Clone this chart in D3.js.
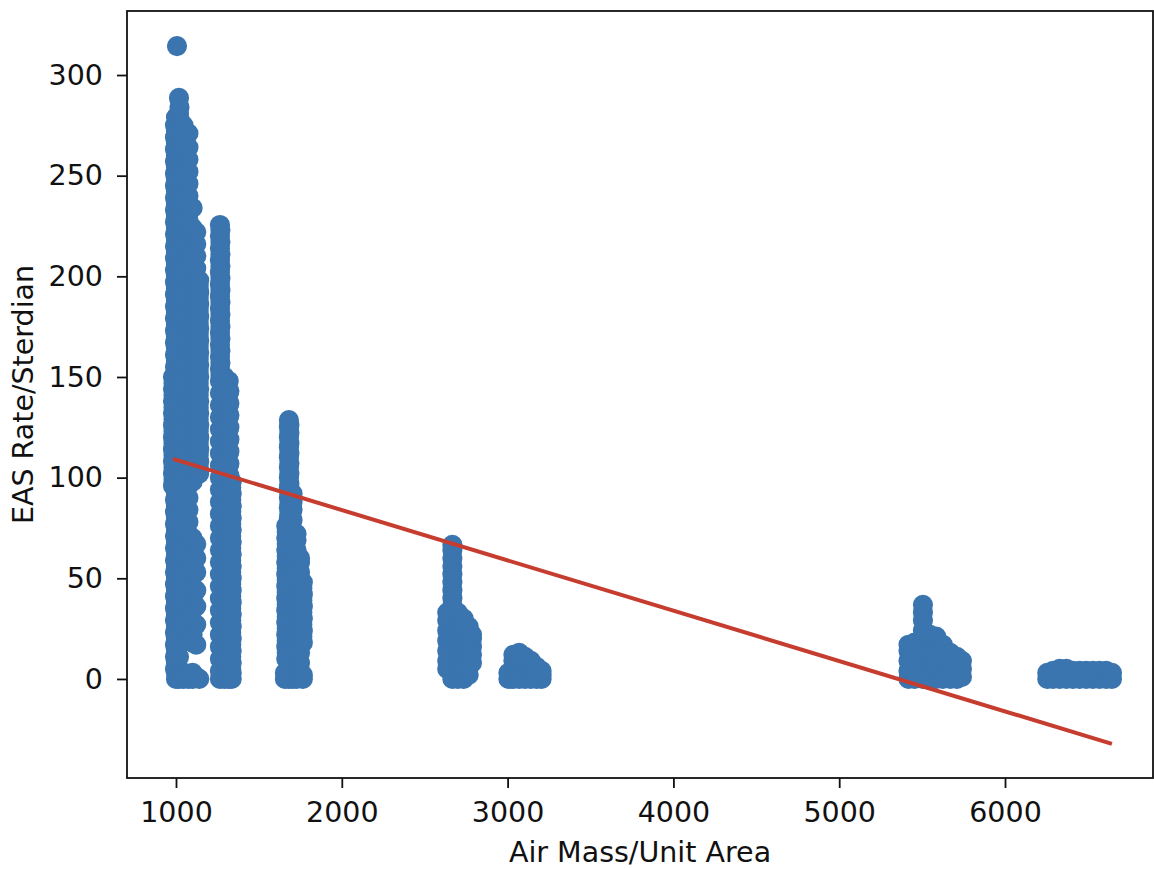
<!DOCTYPE html>
<html>
<head>
<meta charset="utf-8">
<script src="https://d3js.org/d3.v7.min.js"></script>
<style>
  body { margin: 0; background: #fff; }
  svg { display: block; font-family: "DejaVu Sans", sans-serif; }
  .tick text { font-size: 28.5px; fill: #111; }
</style>
</head>
<body>
<svg></svg>
<script>
// scatter strips: [air mass, [EAS rates at that air mass]]
var clusterA = [
  [982, [96,102,108,114,120,126,132,138,144,150]],
  [985, [99,105,111,117,123,129,135,141,147]],
  [994, [5,11,17,23,29,35,41,47,53,59,65,71,77,83,89,95,101,107,113,119,125,131,137,143,149,155,161,167,173,179,185,191,197,203,209,215,221,227,233,239,245,251,257,263,269,275]],
  [1000, [0,3,8,14,20,26,32,38,44,50,56,62,68,74,80,86,92,98,104,110,116,122,128,134,140,146,152,158,164,170,176,182,188,194,200,206,212,218,224,230,236,242,248,254,260,266,272,279]],
  [1018, [0,5,11,17,23,29,35,41,47,53,59,65,71,77,83,89,95,101,107,113,119,125,131,137,143,149,155,161,167,173,179,185,191,197,203,209,215,221,227,233,239,245,251,257,263,269,275,281,288.6]],
  [1021, [230,236,242,248,254,260,266,272,278,284]],
  [1045, [0,3,25,31,37,43,49,55,61,67,73,79,85,91,97,103,109,115,121,127,133,139,145,151,157,163,169,175,181,187,193,199,205,211,217,223,229,235,241,247,253,259,265,275]],
  [1075, [0,2,24,30,36,42,48,54,60,66,72,78,84,90,96,102,108,114,120,126,132,138,144,150,156,162,168,174,180,186,192,198,204,210,216,222,228,234,240,246,252,258,264,271]],
  [1100, [0,3,18,22,28,34,40,46,52,58,64,70,98,104,110,116,122,128,134,140,146,152,158,164,170,176,182,188,194,200,206,212,218,224,234]],
  [1122, [1,17,27,36,44,53,60,67,102,108,114,120,126,132,138,144,150,156,162,168,174,180,186,192,198,204,210,216,222]],
  [1137, [105,111,117,123,129,135,141,147,153,159,165,171,177,183,189,195]],
  [1140, [0,102,108,114,120,126,132,138,144,150,156,162,168,174,180,186,192,198]]
];
var clusterB = [
  [1265, [0,4,10,16,22,28,34,40,46,52,58,64,70,76,82,88,94,100,106,112,118,124,130,136,142,148,154,160,166,172,178,184,190,196,202,208,214,220,225.5]],
  [1268, [151,157,163,169,175,181,187,193,199,205,211,217,223]],
  [1292, [0,3,8,14,20,26,32,38,44,50,56,62,68,74,80,86,92,98,104,110,116,122,128,134,140,146,150]],
  [1318, [0,4,10,16,22,28,34,40,46,52,58,64,70,76,82,88,94,100,106,112,118,124,130,136,142,148]],
  [1322, [101,107,113,119,125,131,137,143]],
  [1333, [5,11,17,23,29,35,41,47,53,59,65,71,77,83,89,95]],
  [1336, [0,3,8,14,20,26,32,38,44,50,56,62,68,74,80,86,92,98]]
];
var clusterC = [
  [1657, [0,3]],
  [1665, [10,16,22,28,34,40,46,52,58,64,70,76]],
  [1668, [13,19,25,31,37,43,49,55,61,67,73]],
  [1681, [0,5,10,15,20,25,30,35,40,45,50,55,60,65,70,75,80,85,90,95,100,105,110,115,120,125,128.6]],
  [1684, [82,87,92,97,102,107,112,117,122,126]],
  [1703, [0,4,9,14,19,24,29,34,39,44,49,54,59,64,69,74,79,84,88,92]],
  [1727, [0,4,9,14,19,24,29,34,39,44,49,54,59,64,69,72]],
  [1748, [3,8,13,18,23,28,33,38,43,48,53,58,60]],
  [1762, [21,27,33,39,45]],
  [1765, [0,2,18,24,30,36,42,48]]
];
var clusterD = [
  [2636, [5,9,14,19,24,29,33]],
  [2667, [0,4,8,12,16,20,24,28,32,36,40,44,48,52,56,60,64,66.6]],
  [2700, [0,4,8,12,16,20,24,28,33]],
  [2735, [0,4,8,12,16,20,24,28,30]],
  [2765, [2,6,10,14,18,22,26]],
  [2785, [8,12,16,20,22]]
];
var clusterE = [
  [3005, [0,3]], [3035, [0,4,9,12]], [3070, [0,4,9,13]], [3105, [0,4,8,11]],
  [3140, [0,3,7,9]], [3175, [0,3,6]], [3205, [0,2,4]]
];
var clusterF = [
  [5418, [0,4,9,14,17]], [5455, [0,4,9,14,18]],
  [5505, [0,4,9,14,19,24,29,33,36.8]],
  [5545, [0,4,9,14,19,22]], [5585, [0,4,9,14,19,21]], [5625, [0,4,9,14,17]],
  [5670, [0,4,9,13]], [5710, [0,4,9,11]], [5740, [1,5,9]]
];
var clusterG = [
  [6255, [0,3]], [6290, [0,4]], [6330, [0,5]], [6370, [0,5]], [6410, [0,4]], [6450, [0,4]],
  [6490, [0,4]], [6530, [0,4]], [6570, [0,4]], [6610, [0,4]], [6645, [0,3]]
];
var outliers = [[1006, 314.4]];

// least squares fit (intercept, slope)
var fitIntercept = 133.9, fitSlope = -0.025;

var xTicks = [1000, 2000, 3000, 4000, 5000, 6000];
var yTicks = [0, 50, 100, 150, 200, 250, 300];

var margin = {top: 11, right: 1, bottom: 91, left: 127},
    width = 1154 - margin.left - margin.right,
    height = 869 - margin.top - margin.bottom;

var dotColor = "#3b75af";
var lineColor = "#c63d2f";

var svg = d3.select("svg")
    .attr("width", 1154)
    .attr("height", 869),
  g = svg.append("g").attr("transform", "translate(" + margin.left + "," + margin.top + ")");

var xScale = d3.scaleLinear().domain([704.5, 6892.6]).range([0, width]);
var yScale = d3.scaleLinear().domain([-49.2, 331.8]).range([height, 0]);

var points = [];
[clusterA, clusterB, clusterC, clusterD, clusterE, clusterF, clusterG].forEach(cluster => {
  cluster.forEach(strip => {
    strip[1].forEach(rate => points.push([strip[0], rate]));
  });
});
outliers.forEach(p => points.push(p));

g.append("g")
  .selectAll("circle")
  .data(points)
  .enter().append("circle")
    .attr("cx", function(d) { return xScale(d[0]); })
    .attr("cy", function(d) { return yScale(d[1]); })
    .attr("r", 9.2)
    .style("fill", dotColor)
    .style("stroke", dotColor)
    .style("stroke-width", 1.8);

// fit line across the data range
var xExtent = d3.extent(points, function(d) { return d[0]; });
g.append("path")
  .datum(xExtent)
  .attr("d", d3.line()
    .x(function(d) { return xScale(d); })
    .y(function(d) { return yScale(fitIntercept + fitSlope * d); }))
  .style("stroke", lineColor)
  .style("stroke-width", 4)
  .style("fill", "none");

// axes
var xAxis = g.append("g")
  .attr("transform", "translate(0," + height + ")")
  .call(d3.axisBottom(xScale).tickValues(xTicks).tickSize(10).tickPadding(14).tickFormat(d3.format("d")));
var yAxis = g.append("g")
  .call(d3.axisLeft(yScale).tickValues(yTicks).tickSize(10).tickPadding(14).tickFormat(d3.format("d")));
[xAxis, yAxis].forEach(a => {
  a.select(".domain").remove();
  a.selectAll(".tick line").style("stroke", "#111").style("stroke-width", 1.8);
  a.attr("font-family", null).attr("font-size", null);
});

// frame
g.append("rect")
  .attr("width", width)
  .attr("height", height)
  .style("fill", "none")
  .style("stroke", "#111")
  .style("stroke-width", 1.8);

svg.append("text")
  .attr("x", margin.left + width / 2)
  .attr("y", 862)
  .attr("text-anchor", "middle")
  .style("font-size", "28.5px")
  .style("fill", "#111")
  .text("Air Mass/Unit Area");

svg.append("text")
  .attr("transform", "translate(33," + (margin.top + height / 2) + ") rotate(-90)")
  .attr("text-anchor", "middle")
  .style("font-size", "28.5px")
  .style("fill", "#111")
  .text("EAS Rate/Sterdian");
</script>
</body>
</html>
